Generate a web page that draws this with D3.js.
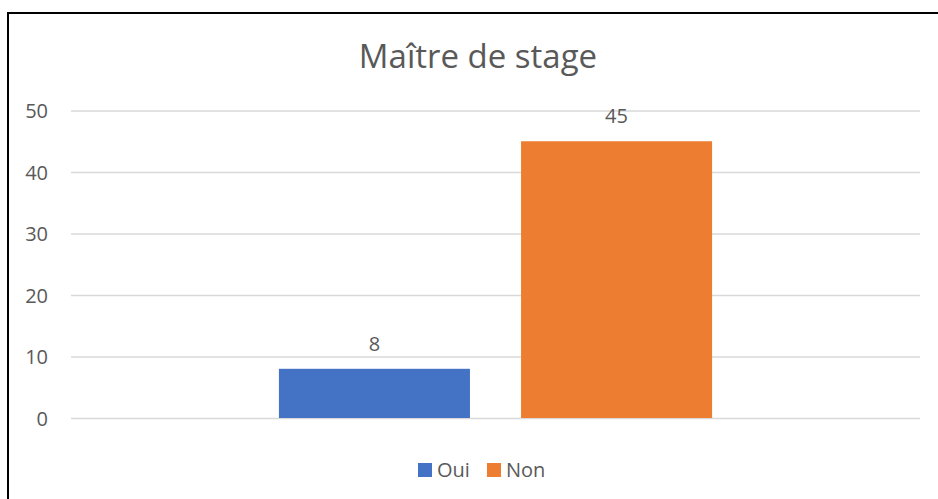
<!DOCTYPE html>
<html><head><meta charset="utf-8">
<script src="https://cdn.jsdelivr.net/npm/d3@7"></script>
<style>html,body{margin:0;padding:0;background:#fff;}svg{display:block;}</style>
</head><body>
<svg id="chart" width="938" height="499"></svg>
<script>
const title = "Maître de stage";
const category = ["Maître de stage"];
const seriesNames = ["Oui", "Non"];
const seriesValues = [8, 45];
const seriesColors = ["#4472C4", "#ED7D31"];
const yTicks = [0, 10, 20, 30, 40, 50];

(function () {
const svg = d3.select("#chart");
const font = "'Open Sans', sans-serif";
const txt = "#595959";

// frame
svg.append("rect").attr("x", 8).attr("y", 13).attr("width", 940).attr("height", 500)
  .attr("fill", "none").attr("stroke", "#000").attr("stroke-width", 2);

const pLeft = 71, pRight = 920, pTop = 110.5, pBottom = 418;
const y = d3.scaleLinear().domain([0, 50]).range([pBottom, pTop]);
const x0 = d3.scaleBand().domain(category).range([pLeft, pRight]).paddingInner(0).paddingOuter(0.48);
const x1 = d3.scaleBand().domain(seriesNames).range([0, x0.bandwidth()]).paddingInner(0.211);

const yAxis = d3.axisLeft(y).tickValues(yTicks).tickSize(-(pRight - pLeft)).tickFormat(d3.format("d"));
const g = svg.append("g").attr("transform", `translate(${pLeft},0)`).call(yAxis);
g.select(".domain").remove();
g.selectAll(".tick line").attr("stroke", "#D9D9D9").attr("stroke-width", 1.5);
g.selectAll(".tick text").attr("x", -23).attr("dy", "0.36em").attr("fill", txt)
  .style("font-family", font).style("font-size", "20px");

const data = seriesNames.map((s, i) => ({ s, v: seriesValues[i], c: seriesColors[i] }));
const grp = svg.append("g").attr("transform", `translate(${x0(category[0])},0)`);
grp.selectAll("rect").data(data).join("rect")
  .attr("x", d => x1(d.s)).attr("y", d => y(d.v))
  .attr("width", x1.bandwidth()).attr("height", d => y(0) - y(d.v))
  .attr("fill", d => d.c);
grp.selectAll("text.lbl").data(data).join("text").attr("class", "lbl")
  .attr("x", d => x1(d.s) + x1.bandwidth() / 2).attr("y", d => y(d.v) - 18)
  .attr("text-anchor", "middle").attr("fill", txt)
  .style("font-family", font).style("font-size", "20px").text(d => d.v);

svg.append("text").attr("x", 478).attr("y", 68).attr("text-anchor", "middle")
  .attr("fill", txt).style("font-family", font).style("font-size", "33px").text(title);

// legend
const legendX = [418, 487];
const lg = svg.append("g");
data.forEach((d, i) => {
  lg.append("rect").attr("x", legendX[i]).attr("y", 463).attr("width", 14).attr("height", 14).attr("fill", d.c);
  lg.append("text").attr("x", legendX[i] + 19).attr("y", 477).attr("fill", txt)
    .style("font-family", font).style("font-size", "20px").text(d.s);
});
})();
</script>
</body></html>
